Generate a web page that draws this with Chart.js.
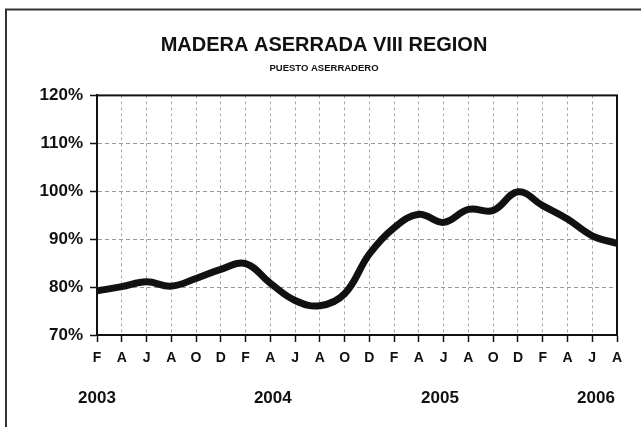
<!DOCTYPE html>
<html>
<head>
<meta charset="utf-8">
<script src="https://cdn.jsdelivr.net/npm/chart.js@4"></script>
<style>
    html, body { margin: 0; padding: 0; background: #fff; }
    #wrap { width: 641px; height: 427px; }
</style>
</head>
<body>
<div id="wrap"><canvas id="chart"></canvas></div>
<script>
// Data
const months = ['F', 'A', 'J', 'A', 'O', 'D', 'F', 'A', 'J', 'A', 'O', 'D',
                'F', 'A', 'J', 'A', 'O', 'D', 'F', 'A', 'J', 'A'];
const values = [79.2, 80.1, 81.1, 80.2, 81.8, 83.7, 84.9, 80.8, 77.2, 76.1, 78.6,
                86.9, 92.4, 95.2, 93.5, 96.2, 96.0, 99.9, 97.0, 94.2, 90.7, 89.1];
const years = ['2003', '2004', '2005', '2006'];
const yearAt = [0, 7.1, 13.85, 20.15]; // category index under each year label
const yTicks = [70, 80, 90, 100, 110, 120];

const INK = '#111';
const FONT = '"Liberation Sans", Arial, sans-serif';

// Outer frame, plot box and year row
const extras = {
    id: 'extras',
    beforeDraw(chart) {
        const ctx = chart.ctx;
        ctx.save();
        ctx.strokeStyle = '#333';
        ctx.lineWidth = 2;
        ctx.beginPath();
        ctx.moveTo(6, 427);
        ctx.lineTo(6, 9.5);
        ctx.lineTo(641, 9.5);
        ctx.stroke();
        ctx.restore();
    },
    afterDraw(chart) {
        const { ctx, chartArea: a } = chart;
        const x = chart.scales.x;
        ctx.save();
        ctx.strokeStyle = INK;
        ctx.lineWidth = 2;
        ctx.strokeRect(a.left, a.top, a.right - a.left, a.bottom - a.top);
        ctx.fillStyle = INK;
        ctx.font = 'bold 17px ' + FONT;
        ctx.textAlign = 'center';
        ctx.textBaseline = 'middle';
        years.forEach((y, i) => {
            ctx.fillText(y, x.getPixelForValue(yearAt[i]), 398);
        });
        ctx.restore();
    }
};

new Chart(document.getElementById('chart'), {
    type: 'line',
    data: {
        labels: months,
        datasets: [{
            data: values,
            borderColor: INK,
            borderWidth: 7,
            pointRadius: 0,
            tension: 0.4,
            fill: false
        }]
    },
    options: {
        responsive: true,
        maintainAspectRatio: false,
        animation: false,
        layout: { padding: { left: 7, right: 0, top: 0, bottom: 0 } },
        plugins: {
            legend: { display: false },
            tooltip: { enabled: false },
            title: {
                display: true,
                text: 'MADERA ASERRADA VIII REGION',
                color: INK,
                font: { family: FONT, size: 20, weight: 'bold' },
                padding: { top: 33, bottom: 6 }
            },
            subtitle: {
                display: true,
                text: 'PUESTO ASERRADERO',
                color: INK,
                font: { family: FONT, size: 9.5, weight: 'bold' },
                padding: { top: 0, bottom: 21 }
            }
        },
        scales: {
            x: {
                offset: false,
                grid: {
                    color: '#aaa',
                    lineWidth: 1,
                    tickColor: INK,
                    tickLength: 7,
                    tickWidth: 1.5
                },
                border: { color: INK, width: 2, dash: [3, 3] },
                ticks: {
                    color: INK,
                    autoSkip: false,
                    maxRotation: 0,
                    padding: 8,
                    font: { family: FONT, size: 14, weight: 'bold' }
                },
                afterFit(scale) { scale.height = 92; }
            },
            y: {
                min: 70,
                max: 120,
                afterBuildTicks(scale) { scale.ticks = yTicks.map(v => ({ value: v })); },
                grid: {
                    color: '#999',
                    lineWidth: 1,
                    tickColor: INK,
                    tickLength: 7,
                    tickWidth: 1.5
                },
                border: { color: INK, width: 2, dash: [4, 3] },
                ticks: {
                    color: INK,
                    padding: 7,
                    callback: v => v + '%',
                    font: { family: FONT, size: 17, weight: 'bold' }
                },
                afterFit(scale) { scale.width = 90; }
            },
            // empty right-hand strip that keeps the plot off the right edge
            pad: {
                type: 'linear',
                position: 'right',
                grid: { display: false },
                ticks: { display: false },
                border: { display: false },
                afterFit(scale) { scale.width = 24; }
            }
        }
    },
    plugins: [extras]
});
</script>
</body>
</html>
